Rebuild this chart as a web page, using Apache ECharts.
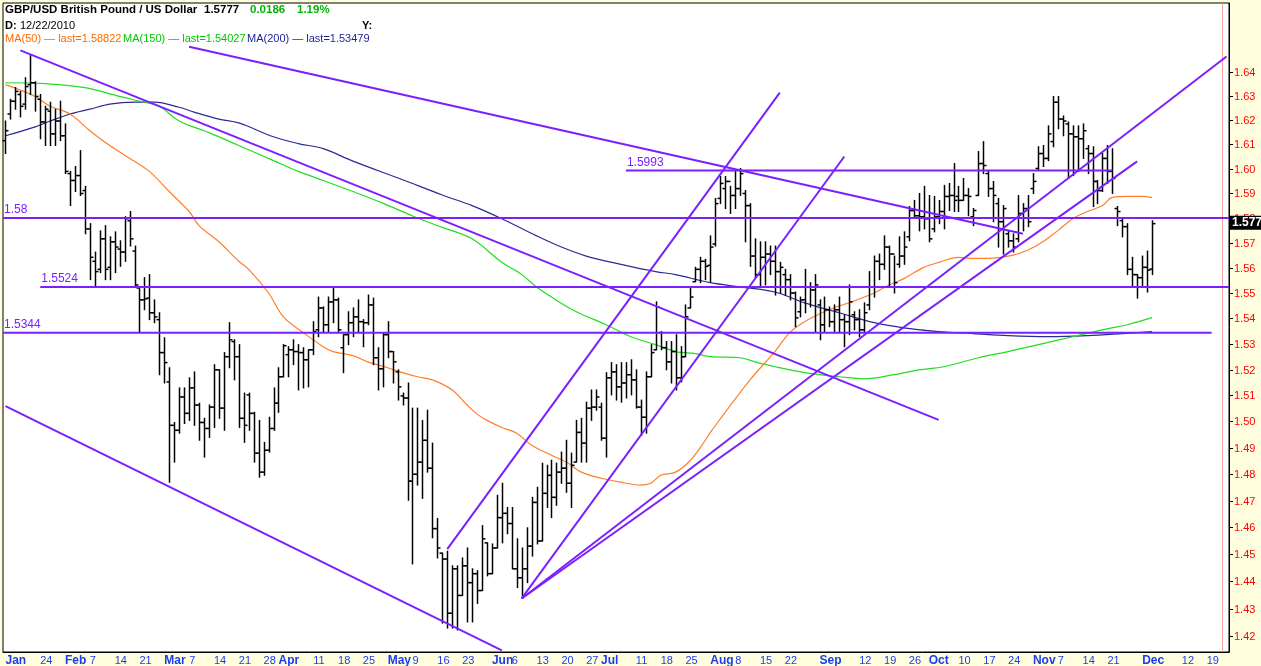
<!DOCTYPE html>
<html><head><meta charset="utf-8">
<script src="https://cdn.jsdelivr.net/npm/echarts@6/dist/echarts.min.js"></script>
<style>html,body{margin:0;padding:0;background:#ffffe0;}#c{width:1261px;height:666px;}</style>
</head><body><div id="c"></div>
<script>
// ---------- data ----------
const firstDate = '2010-01-14';
const lastAxisDate = '2010-12-24';
const opens = [1.6115,1.6225,1.6278,1.6306,1.6266,1.6347,1.6355,1.6286,1.6192,1.6237,
1.6143,1.6196,1.6135,1.5980,1.5952,1.5972,1.5911,1.5756,1.5626,1.5594,
1.5716,1.5602,1.5704,1.5675,1.5663,1.5789,1.5667,1.5520,1.5473,1.5480,
1.5422,1.5395,1.5266,1.5152,1.4985,1.4966,1.5094,1.5031,1.5129,1.5063,
1.4996,1.4973,1.5055,1.5199,1.5051,1.5250,1.5309,1.5250,1.5012,1.5102,
1.5031,1.4879,1.4807,1.4890,1.4973,1.5070,1.5172,1.5258,1.5277,1.5270,
1.5266,1.5238,1.5277,1.5355,1.5441,1.5375,1.5465,1.5473,1.5285,1.5336,
1.5383,1.5406,1.5387,1.5383,1.5453,1.5246,1.5203,1.5336,1.5270,1.5191,
1.5098,1.5090,1.4773,1.4799,1.4845,1.4928,1.4822,1.4595,1.4504,1.4482,
1.4283,1.4446,1.4348,1.4457,1.4395,1.4428,1.4366,1.4542,1.4428,1.4523,
1.4636,1.4652,1.4614,1.4446,1.4413,1.4446,1.4530,1.4693,1.4549,1.4727,
1.4795,1.4712,1.4807,1.4822,1.4765,1.4845,1.4958,1.4917,1.5051,1.5055,
1.5055,1.4936,1.5168,1.5191,1.5133,1.5148,1.5180,1.5160,1.5055,1.5016,
1.5172,1.5277,1.5344,1.5285,1.5230,1.5270,1.5168,1.5250,1.5441,1.5545,
1.5594,1.5626,1.5610,1.5695,1.5879,1.5919,1.5948,1.5891,1.5919,1.5899,
1.5850,1.5647,1.5573,1.5642,1.5655,1.5626,1.5585,1.5573,1.5553,1.5500,
1.5426,1.5473,1.5524,1.5512,1.5453,1.5375,1.5434,1.5387,1.5434,1.5395,
1.5387,1.5414,1.5395,1.5355,1.5453,1.5524,1.5626,1.5614,1.5683,1.5655,
1.5614,1.5647,1.5724,1.5830,1.5809,1.5805,1.5797,1.5756,1.5805,1.5826,
1.5887,1.5891,1.5887,1.5871,1.5891,1.5805,1.5891,1.6021,1.5980,1.5919,
1.5858,1.5785,1.5736,1.5708,1.5716,1.5818,1.5838,1.5919,1.6001,1.6062,
1.6042,1.6111,1.6274,1.6204,1.6184,1.6143,1.6131,1.6123,1.6082,1.6062,
1.5948,1.5911,1.6042,1.5989,1.5838,1.5789,1.5765,1.5594,1.5573,1.5561,
1.5602,1.5595];
const highs = [1.6196,1.6286,1.6335,1.6319,1.6376,1.6469,1.6359,1.6306,1.6257,1.6274,
1.6245,1.6278,1.6184,1.5989,1.6009,1.6074,1.5928,1.5777,1.5663,1.5748,
1.5769,1.5724,1.5744,1.5708,1.5805,1.5826,1.5687,1.5524,1.5561,1.5573,
1.5473,1.5422,1.5324,1.5207,1.4996,1.5129,1.5129,1.5168,1.5191,1.5070,
1.5012,1.5063,1.5219,1.5199,1.5266,1.5383,1.5316,1.5297,1.5109,1.5109,
1.5035,1.5004,1.4920,1.5016,1.5129,1.5207,1.5297,1.5289,1.5316,1.5297,
1.5285,1.5277,1.5387,1.5484,1.5445,1.5484,1.5524,1.5480,1.5336,1.5426,
1.5441,1.5473,1.5395,1.5492,1.5480,1.5285,1.5344,1.5387,1.5270,1.5199,
1.5109,1.5148,1.5051,1.5051,1.5004,1.5043,1.4917,1.4633,1.4504,1.4511,
1.4457,1.4457,1.4486,1.4523,1.4446,1.4439,1.4606,1.4542,1.4538,1.4720,
1.4765,1.4674,1.4674,1.4557,1.4523,1.4598,1.4712,1.4750,1.4841,1.4833,
1.4852,1.4841,1.4883,1.4928,1.4879,1.5004,1.5012,1.5074,1.5121,1.5121,
1.5070,1.5188,1.5227,1.5219,1.5227,1.5227,1.5238,1.5199,1.5082,1.5191,
1.5297,1.5465,1.5348,1.5309,1.5309,1.5336,1.5289,1.5453,1.5524,1.5602,
1.5642,1.5634,1.5728,1.5879,1.5968,1.5968,1.5928,1.5993,1.6001,1.5911,
1.5858,1.5716,1.5704,1.5704,1.5687,1.5687,1.5622,1.5594,1.5573,1.5504,
1.5484,1.5594,1.5541,1.5573,1.5473,1.5484,1.5445,1.5453,1.5484,1.5414,
1.5532,1.5426,1.5434,1.5461,1.5585,1.5647,1.5655,1.5728,1.5687,1.5647,
1.5724,1.5744,1.5846,1.5871,1.5899,1.5928,1.5891,1.5887,1.5871,1.5932,
1.5940,1.6021,1.5928,1.5960,1.5919,1.5838,1.6070,1.6111,1.5989,1.5948,
1.5879,1.5850,1.5748,1.5736,1.5891,1.5858,1.5891,1.5980,1.6090,1.6095,
1.6176,1.6298,1.6298,1.6217,1.6192,1.6176,1.6176,1.6184,1.6095,1.6090,
1.5952,1.6062,1.6095,1.6082,1.5846,1.5797,1.5777,1.5642,1.5573,1.5647,
1.5667,1.5789];
const lows = [1.6062,1.6204,1.6245,1.6213,1.6245,1.6306,1.6237,1.6123,1.6095,1.6095,
1.6095,1.6115,1.5980,1.5850,1.5907,1.5891,1.5736,1.5553,1.5524,1.5581,
1.5553,1.5553,1.5581,1.5606,1.5626,1.5687,1.5524,1.5344,1.5434,1.5395,
1.5383,1.5180,1.5148,1.4769,1.4845,1.4955,1.4992,1.5004,1.4985,1.4928,
1.4864,1.4939,1.4977,1.5012,1.4966,1.5207,1.5160,1.4977,1.4920,1.4966,
1.4845,1.4788,1.4795,1.4883,1.4966,1.5035,1.5172,1.5172,1.5219,1.5121,
1.5129,1.5133,1.5258,1.5328,1.5344,1.5348,1.5383,1.5348,1.5188,1.5297,
1.5328,1.5344,1.5289,1.5375,1.5219,1.5121,1.5133,1.5246,1.5148,1.5082,
1.5063,1.4701,1.4464,1.4758,1.4708,1.4807,1.4561,1.4486,1.4247,1.4229,
1.4229,1.4222,1.4348,1.4251,1.4251,1.4319,1.4366,1.4420,1.4428,1.4523,
1.4542,1.4576,1.4446,1.4377,1.4337,1.4395,1.4493,1.4538,1.4549,1.4674,
1.4636,1.4682,1.4765,1.4731,1.4674,1.4845,1.4845,1.4845,1.5004,1.5043,
1.4928,1.4864,1.5102,1.5082,1.5074,1.5090,1.5102,1.5051,1.4947,1.4955,
1.5172,1.5277,1.5277,1.5199,1.5148,1.5121,1.5152,1.5250,1.5441,1.5545,
1.5541,1.5553,1.5545,1.5687,1.5858,1.5838,1.5818,1.5838,1.5891,1.5704,
1.5606,1.5561,1.5524,1.5532,1.5573,1.5492,1.5500,1.5492,1.5473,1.5367,
1.5406,1.5422,1.5445,1.5348,1.5316,1.5348,1.5367,1.5344,1.5344,1.5289,
1.5336,1.5355,1.5328,1.5348,1.5434,1.5484,1.5553,1.5594,1.5524,1.5500,
1.5602,1.5614,1.5708,1.5805,1.5748,1.5756,1.5704,1.5744,1.5777,1.5756,
1.5830,1.5826,1.5826,1.5871,1.5809,1.5769,1.5891,1.5980,1.5887,1.5785,
1.5683,1.5655,1.5683,1.5663,1.5704,1.5748,1.5765,1.5899,1.5993,1.6009,
1.6033,1.6090,1.6164,1.6135,1.5960,1.5972,1.5989,1.6042,1.5980,1.5846,
1.5858,1.5907,1.5940,1.5899,1.5769,1.5724,1.5573,1.5524,1.5480,1.5524,
1.5504,1.5573];
const closes = [1.6156,1.6278,1.6319,1.6257,1.6339,1.6355,1.6298,1.6192,1.6245,1.6143,
1.6196,1.6135,1.5989,1.5952,1.5972,1.5899,1.5756,1.5642,1.5585,1.5716,
1.5594,1.5704,1.5683,1.5663,1.5797,1.5716,1.5532,1.5473,1.5477,1.5422,
1.5406,1.5266,1.5227,1.4985,1.4966,1.5094,1.5031,1.5129,1.5063,1.4996,
1.4973,1.5055,1.5199,1.5051,1.5250,1.5316,1.5250,1.5012,1.4985,1.5031,
1.4879,1.4807,1.4890,1.4973,1.5070,1.5172,1.5293,1.5277,1.5270,1.5266,
1.5238,1.5277,1.5348,1.5441,1.5375,1.5465,1.5473,1.5355,1.5336,1.5383,
1.5406,1.5387,1.5383,1.5453,1.5246,1.5203,1.5336,1.5270,1.5230,1.5133,
1.5090,1.4773,1.4799,1.4845,1.4928,1.4822,1.4595,1.4523,1.4482,1.4283,
1.4446,1.4348,1.4457,1.4395,1.4428,1.4366,1.4557,1.4428,1.4523,1.4636,
1.4652,1.4614,1.4446,1.4413,1.4446,1.4530,1.4693,1.4549,1.4727,1.4795,
1.4712,1.4807,1.4822,1.4765,1.4833,1.4958,1.4917,1.5051,1.5055,1.5094,
1.4936,1.5168,1.5191,1.5133,1.5148,1.5180,1.5160,1.5055,1.5016,1.5172,
1.5266,1.5445,1.5285,1.5230,1.5270,1.5168,1.5250,1.5406,1.5484,1.5594,
1.5626,1.5606,1.5683,1.5858,1.5940,1.5948,1.5891,1.5919,1.5980,1.5850,
1.5647,1.5573,1.5642,1.5655,1.5626,1.5585,1.5602,1.5553,1.5500,1.5402,
1.5473,1.5524,1.5512,1.5532,1.5375,1.5434,1.5387,1.5434,1.5395,1.5387,
1.5465,1.5395,1.5355,1.5422,1.5524,1.5626,1.5614,1.5683,1.5655,1.5541,
1.5647,1.5683,1.5830,1.5809,1.5805,1.5797,1.5716,1.5805,1.5826,1.5887,
1.5891,1.5871,1.5871,1.5891,1.5887,1.5830,1.6021,1.6013,1.5919,1.5891,
1.5785,1.5838,1.5708,1.5683,1.5818,1.5838,1.5785,1.5948,1.6062,1.6042,
1.6143,1.6274,1.6204,1.6196,1.6143,1.6131,1.6123,1.6156,1.6062,1.5948,
1.5911,1.6042,1.5989,1.5960,1.5826,1.5765,1.5594,1.5573,1.5561,1.5602,
1.5591,1.5777];
// moving averages: [bar index, value]
const ma50 = [[0,1.6347],[6,1.6298],[9,1.6257],[13,1.6225],[17,1.6156],[21,1.6095],[26,1.6030],[29,1.5989],[33,1.5907],[37,1.5826],[39,1.5769],[43,1.5704],[47,1.5626],[49,1.5594],[53,1.5500],[56,1.5406],[60,1.5344],[64,1.5289],[66,1.5270],[70,1.5254],[73,1.5230],[77,1.5207],[80,1.5188],[83,1.5172],[86,1.5160],[90,1.5121],[93,1.5063],[95,1.5028],[97,1.5004],[100,1.4977],[103,1.4955],[106,1.4909],[110,1.4871],[113,1.4845],[116,1.4807],[120,1.4784],[124,1.4769],[128,1.4758],[130,1.4765],[132,1.4795],[135,1.4807],[138,1.4852],[141,1.4928],[142,1.4958],[150,1.5160],[155,1.5270],[158,1.5344],[161,1.5387],[165,1.5426],[168,1.5449],[171,1.5469],[175,1.5500],[178,1.5532],[181,1.5557],[185,1.5602],[188,1.5622],[192,1.5642],[195,1.5638],[198,1.5638],[203,1.5651],[206,1.5671],[209,1.5704],[212,1.5749],[215,1.5797],[218,1.5826],[221,1.5850],[223,1.5883],[226,1.5887],[229,1.5887],[231,1.58822]];
const ma150 = [[0,1.6355],[8,1.6351],[16,1.6335],[23,1.6298],[28,1.6274],[31,1.6257],[35,1.6196],[41,1.6148],[47,1.6095],[54,1.6033],[59,1.5989],[64,1.5952],[70,1.5907],[76,1.5860],[82,1.5808],[88,1.5762],[94,1.5716],[100,1.5622],[104,1.5573],[107,1.5524],[110,1.5484],[115,1.5426],[121,1.5375],[126,1.5328],[131,1.5297],[135,1.5270],[139,1.5262],[142,1.5250],[148,1.5246],[151,1.5230],[155,1.5211],[161,1.5188],[168,1.5172],[173,1.5164],[179,1.5180],[184,1.5199],[189,1.5211],[196,1.5246],[202,1.5270],[209,1.5301],[215,1.5328],[221,1.5355],[226,1.5375],[231,1.54027]];
const ma200 = [[0,1.6135],[6,1.6172],[9,1.6196],[13,1.6225],[17,1.6245],[21,1.6266],[26,1.6274],[30,1.6274],[35,1.6253],[38,1.6233],[43,1.6204],[47,1.6188],[54,1.6131],[59,1.6103],[64,1.6082],[70,1.6031],[80,1.5955],[88,1.5893],[94,1.5850],[100,1.5797],[107,1.5728],[112,1.5683],[117,1.5647],[124,1.5614],[131,1.5585],[135,1.5573],[142,1.5541],[148,1.5524],[155,1.5504],[161,1.5461],[168,1.5422],[175,1.5383],[181,1.5363],[188,1.5348],[195,1.5340],[202,1.5332],[210,1.5328],[218,1.5332],[225,1.5340],[231,1.53479]];
// horizontal levels: [price, from date (null = left edge), to date (null = right edge), label]
const levels = [[1.58,null,null,'1.58'],[1.5524,'2010-01-25',null,'1.5524'],[1.5344,null,'2010-12-21','1.5344'],[1.5993,'2010-07-08','2010-11-23','1.5993']];
// trend lines: [from date, from price, to date, to price]
const trendLines = [
 ['2010-01-19',1.6491,'2010-10-05',1.5006],
 ['2010-03-08',1.6506,'2010-10-28',1.5736],
 ['2010-01-14',1.5059,'2010-06-03',1.4148],
 ['2010-05-19',1.4519,'2010-08-20',1.6314],
 ['2010-06-09',1.4337,'2010-09-08',1.6050],
 ['2010-06-09',1.4337,'2010-12-24',1.6465],
 ['2010-06-09',1.4337,'2010-11-30',1.6030]
];
const todayMarker = '2010-12-23';
const priceTicks = [1.42,1.43,1.44,1.45,1.46,1.47,1.48,1.49,1.50,1.51,1.52,1.53,1.54,1.55,1.56,1.57,1.58,1.59,1.60,1.61,1.62,1.63,1.64];
const dateTickLabels = [['2010-01-14','Jan'],['2010-01-25','24'],['2010-02-01','Feb'],['2010-02-08','7'],['2010-02-15','14'],['2010-02-22','21'],
 ['2010-03-01','Mar'],['2010-03-08','7'],['2010-03-15','14'],['2010-03-22','21'],['2010-03-29','28'],
 ['2010-04-01','Apr'],['2010-04-12','11'],['2010-04-19','18'],['2010-04-26','25'],
 ['2010-05-03','May'],['2010-05-10','9'],['2010-05-17','16'],['2010-05-24','23'],
 ['2010-06-01','Jun'],['2010-06-07','6'],['2010-06-14','13'],['2010-06-21','20'],['2010-06-28','27'],
 ['2010-07-01','Jul'],['2010-07-12','11'],['2010-07-19','18'],['2010-07-26','25'],
 ['2010-08-02','Aug'],['2010-08-09','8'],['2010-08-16','15'],['2010-08-23','22'],
 ['2010-09-01','Sep'],['2010-09-13','12'],['2010-09-20','19'],['2010-09-27','26'],
 ['2010-10-01','Oct'],['2010-10-11','10'],['2010-10-18','17'],['2010-10-25','24'],
 ['2010-11-01','Nov'],['2010-11-08','7'],['2010-11-15','14'],['2010-11-22','21'],
 ['2010-12-01','Dec'],['2010-12-13','12'],['2010-12-20','19']];

// ---------- build ----------
const dates = [];
for (let d = new Date(firstDate + 'T00:00:00Z'); d.toISOString().slice(0,10) <= lastAxisDate; d.setUTCDate(d.getUTCDate()+1)) {
  const w = d.getUTCDay(); if (w > 0 && w < 6) dates.push(d.toISOString().slice(0,10));
}
const labelMap = new Map(dateTickLabels);
const idx = d => dates.indexOf(d);
const PURPLE = '#7b1fff';
const FONT = 'Liberation Sans';

const chart = echarts.init(document.getElementById('c'), null, {renderer:'canvas', width:1261, height:666});
const lineSeries = (name, pts, color) => ({
  type:'line', name, data: pts, showSymbol:false, smooth:0.35, z:2, silent:true,
  lineStyle:{color, width:1.2}, itemStyle:{color}
});
chart.setOption({
  animation:false,
  backgroundColor:'#ffffe0',
  grid:{left:3, right:32, top:3, bottom:14, show:true, backgroundColor:'#ffffff', borderColor:'#000', borderWidth:1, containLabel:false, outerBoundsMode:'none'},
  xAxis:{type:'category', data:dates, boundaryGap:true,
    axisLine:{show:true, lineStyle:{color:'#000'}}, axisTick:{show:false}, splitLine:{show:false},
    axisLabel:{interval:(i, v) => labelMap.has(v), align:'left', margin:3, fontFamily:FONT, color:'#1a3cf0',
      formatter: v => { const t = labelMap.get(v); return isNaN(+t) ? '{m|'+t+'}' : '{d|'+t+'}'; },
      rich:{m:{fontWeight:'bold', fontSize:12, color:'#1a3cf0', fontFamily:FONT}, d:{fontSize:11, color:'#1a3cf0', fontFamily:FONT}}}},
  yAxis:{type:'log', logBase:10, min:1.41423, max:1.66915, position:'right',
    axisLine:{show:true, lineStyle:{color:'#000'}}, axisTick:{show:false}, axisLabel:{show:false}, splitLine:{show:false}},
  graphic:[
    {type:'text', left:5, top:4, style:{text:'GBP/USD British Pound / US Dollar', font:'bold 11.5px '+FONT, fill:'#000'}},
    {type:'text', left:204, top:4, style:{text:'1.5777', font:'bold 11.5px '+FONT, fill:'#000'}},
    {type:'text', left:250, top:4, style:{text:'0.0186', font:'bold 11.5px '+FONT, fill:'#00b400'}},
    {type:'text', left:297, top:4, style:{text:'1.19%', font:'bold 11.5px '+FONT, fill:'#00b400'}},
    {type:'text', left:5, top:20, style:{text:'D:', font:'bold 11px '+FONT, fill:'#000'}},
    {type:'text', left:20, top:20, style:{text:'12/22/2010', font:'11px '+FONT, fill:'#000'}},
    {type:'text', left:362, top:20, style:{text:'Y:', font:'bold 11px '+FONT, fill:'#000'}},
    {type:'text', left:5, top:33, style:{text:'MA(50) \u2014 last=1.58822', font:'11px '+FONT, fill:'#ff6a00'}},
    {type:'text', left:123, top:33, style:{text:'MA(150) \u2014 last=1.54027', font:'11px '+FONT, fill:'#00c800'}},
    {type:'text', left:247, top:33, style:{text:'MA(200) \u2014 last=1.53479', font:'11px '+FONT, fill:'#1c1c9c'}}
  ],
  series:[
    lineSeries('MA(200)', ma200, '#2a2a96'),
    lineSeries('MA(150)', ma150, '#22dd22'),
    lineSeries('MA(50)', ma50, '#ff7f2a'),
    { // OHLC bars
      type:'custom', z:3, silent:true,
      data: opens.map((o,i) => [i, o, highs[i], lows[i], closes[i]]),
      encode:{x:0, y:[1,2,3,4]},
      renderItem(params, api){
        const i = api.value(0);
        const o = api.coord([i, api.value(1)]), h = api.coord([i, api.value(2)]);
        const l = api.coord([i, api.value(3)]), c = api.coord([i, api.value(4)]);
        const x = Math.round(h[0]) + 0.5;
        const st = {stroke:'#000', lineWidth:1.5};
        return {type:'group', children:[
          {type:'line', shape:{x1:x, y1:h[1]-0.5, x2:x, y2:l[1]+0.5}, style:st},
          {type:'line', shape:{x1:x-3, y1:o[1], x2:x, y2:o[1]}, style:st},
          {type:'line', shape:{x1:x, y1:c[1], x2:x+3, y2:c[1]}, style:st}]};
      }
    },
    { // today marker
      type:'custom', z:1, silent:true, data:[[idx(todayMarker), 1.5]], encode:{x:0,y:1},
      renderItem(params, api){
        const cs = params.coordSys; const x = Math.round(api.coord([api.value(0), 1.5])[0]) + 0.5;
        return {type:'line', shape:{x1:x, y1:cs.y, x2:x, y2:cs.y+cs.height}, style:{stroke:'#f2a0a0', lineWidth:1}};
      }
    },
    { // horizontal levels
      type:'custom', z:4, silent:true, data: levels.map(l => [0, l[0]]), encode:{x:0,y:1},
      renderItem(params, api){
        const L = levels[params.dataIndex]; const cs = params.coordSys;
        const y = api.coord([0, L[0]])[1];
        const x1 = L[1] ? api.coord([idx(L[1]), L[0]])[0] : cs.x;
        const x2 = L[2] ? api.coord([idx(L[2]), L[0]])[0] : cs.x + cs.width;
        return {type:'group', children:[
          {type:'line', shape:{x1, y1:y, x2, y2:y}, style:{stroke:PURPLE, lineWidth:2}},
          {type:'text', x:x1+1, y:y-2, style:{text:L[3], fill:PURPLE, font:'12px '+FONT, textVerticalAlign:'bottom'}}]};
      }
    },
    { // trend lines
      type:'custom', z:4, silent:true, data: trendLines.map(t => [idx(t[0]), t[1], idx(t[2]), t[3]]), encode:{x:[0,2], y:[1,3]},
      renderItem(params, api){
        const a = api.coord([api.value(0), api.value(1)]), b = api.coord([api.value(2), api.value(3)]);
        return {type:'line', shape:{x1:a[0], y1:a[1], x2:b[0], y2:b[1]}, style:{stroke:PURPLE, lineWidth:2}};
      }
    },
    { // price scale ticks & labels on the right
      type:'custom', z:5, silent:true, clip:false, data: priceTicks.map(p => [0, p]), encode:{x:0,y:1},
      renderItem(params, api){
        const cs = params.coordSys; const xr = cs.x + cs.width;
        const y = Math.round(api.coord([0, api.value(1)])[1]) + 0.5;
        return {type:'group', children:[
          {type:'line', shape:{x1:xr, y1:y, x2:xr+4, y2:y}, style:{stroke:'#000', lineWidth:1}},
          {type:'text', x:xr+5, y:y, style:{text:api.value(1).toFixed(2), fill:'#ff0000', font:'11px '+FONT, textVerticalAlign:'middle'}}]};
      }
    },
    { // last price box
      type:'custom', z:6, silent:true, clip:false, data:[[0, closes[closes.length-1]]], encode:{x:0,y:1},
      renderItem(params, api){
        const cs = params.coordSys; const xr = cs.x + cs.width;
        const y = api.coord([0, api.value(1)])[1];
        return {type:'group', children:[
          {type:'rect', shape:{x:xr+1, y:y-8, width:40, height:14}, style:{fill:'#000'}},
          {type:'text', x:xr+3, y:y-1, style:{text:api.value(1).toFixed(4), fill:'#fff', font:'bold 12px '+FONT, textVerticalAlign:'middle'}}]};
      }
    }
  ]
});
</script></body></html>
